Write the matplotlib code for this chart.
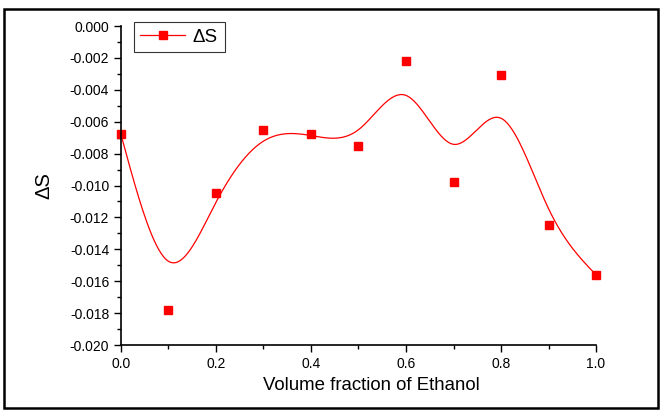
import matplotlib
matplotlib.use('Agg')
import matplotlib.pyplot as plt
import numpy as np
from matplotlib.patches import Rectangle
from matplotlib.ticker import MultipleLocator, FormatStrFormatter

plt.rcParams.update({
    'font.family': ['Liberation Sans', 'DejaVu Sans'],
    'axes.unicode_minus': False,
    'font.size': 10,
})

fracao = np.array([0.0, 0.1, 0.2, 0.3, 0.4, 0.5, 0.6, 0.7, 0.8, 0.9, 1.0])
delta_s = np.array([-0.0068, -0.0178, -0.0105, -0.0065, -0.0068, -0.0075,
                    -0.0022, -0.0098, -0.0031, -0.0125, -0.0156])


def bspline(px, py, passos=40):
    """B-spline cubica uniforme, pontos de controle = dados, extremos fixos."""
    px = np.concatenate([[2 * px[0] - px[1]], px, [2 * px[-1] - px[-2]]])
    py = np.concatenate([[2 * py[0] - py[1]], py, [2 * py[-1] - py[-2]]])
    u = np.linspace(0, 1, passos)
    b0 = (1 - u) ** 3 / 6
    b1 = (3 * u ** 3 - 6 * u ** 2 + 4) / 6
    b2 = (-3 * u ** 3 + 3 * u ** 2 + 3 * u + 1) / 6
    b3 = u ** 3 / 6
    xs, ys = [], []
    for i in range(1, len(px) - 2):
        xs.append(b0 * px[i - 1] + b1 * px[i] + b2 * px[i + 1] + b3 * px[i + 2])
        ys.append(b0 * py[i - 1] + b1 * py[i] + b2 * py[i + 1] + b3 * py[i + 2])
    return np.concatenate(xs), np.concatenate(ys)


fig = plt.figure(figsize=(6.61, 4.13), dpi=100)
ax = fig.add_axes([0.183, 0.1646, 0.7187, 0.7724])

cx, cy = bspline(fracao, delta_s)
ax.plot(cx, cy, '-', color='red', linewidth=0.9, clip_on=False)
ax.plot(fracao, delta_s, 's', color='red', markersize=5.5, linestyle='none',
        clip_on=False)

# legenda (linha + marcador)
ax.plot([], [], 's-', color='red', markersize=5.5, linewidth=0.9, label='ΔS')
leg = ax.legend(loc='upper left', bbox_to_anchor=(0.027, 1.0125), borderaxespad=0,
                frameon=True, fancybox=False, edgecolor='black', fontsize=13.5,
                handlelength=2.4, borderpad=0.35, handletextpad=0.4)
leg.get_frame().set_linewidth(0.8)

ax.set_xlim(0, 1.0)
ax.set_ylim(-0.020, 0.000)
ax.xaxis.set_major_locator(MultipleLocator(0.2))
ax.xaxis.set_minor_locator(MultipleLocator(0.1))
ax.yaxis.set_major_locator(MultipleLocator(0.002))
ax.yaxis.set_minor_locator(MultipleLocator(0.001))
ax.xaxis.set_major_formatter(FormatStrFormatter('%.1f'))
ax.yaxis.set_major_formatter(FormatStrFormatter('%.3f'))
ax.tick_params(which='major', direction='out', length=5, width=1, labelsize=10)
ax.tick_params(which='minor', direction='out', length=3, width=1)
for lado in ['top', 'right']:
    ax.spines[lado].set_visible(False)
for lado in ['left', 'bottom']:
    ax.spines[lado].set_linewidth(1.2)

ax.set_xlabel('Volume fraction of Ethanol', fontsize=13.4)
ax.xaxis.set_label_coords(0.528, -0.1)
ax.set_ylabel('ΔS', fontsize=14.5)
ax.yaxis.set_label_coords(-0.142, 0.5)

# moldura externa
fig.patches.append(Rectangle((4 / 661, 5 / 413), 654 / 661, 399 / 413,
                             transform=fig.transFigure, fill=False,
                             edgecolor='black', linewidth=1.8))

plt.savefig('out.png', dpi=100)
